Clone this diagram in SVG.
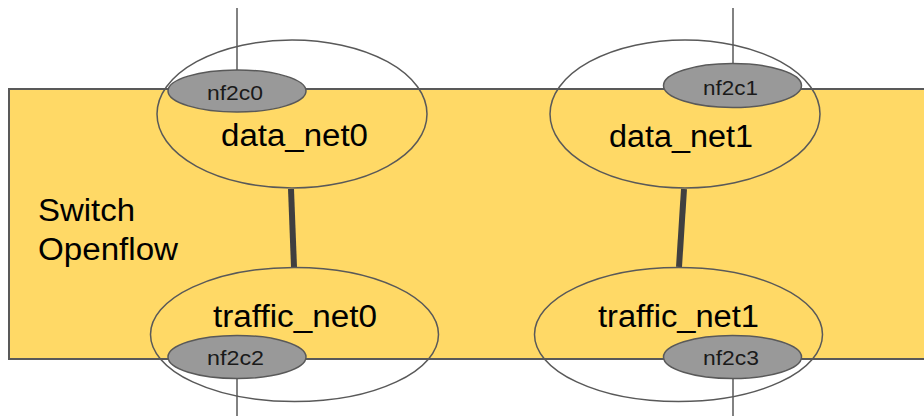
<svg xmlns="http://www.w3.org/2000/svg" width="924" height="416" viewBox="0 0 924 416">
  <style>
    .switch { fill: #ffd966; stroke: #595959; stroke-width: 2; }
    .net { fill: none; stroke: #595959; stroke-width: 1.5; }
    .port { fill: #999999; stroke: #595959; stroke-width: 1.5; }
    .wire { stroke: #595959; stroke-width: 1.5; fill: none; }
    .link { stroke: #404040; stroke-width: 6; fill: none; }
    .big { font-family: "Liberation Sans", Arial, sans-serif; font-size: 31px; fill: #000; }
    .small { font-family: "Liberation Sans", Arial, sans-serif; font-size: 21px; fill: #1a1a1a; }
  </style>

  <!-- switch body -->
  <g id="switch">
    <rect class="switch" x="9" y="89" width="930" height="270"/>
    <text class="big" x="38" y="221" textLength="97" lengthAdjust="spacingAndGlyphs">Switch</text>
    <text class="big" x="38" y="260" textLength="140" lengthAdjust="spacingAndGlyphs">Openflow</text>
  </g>

  <!-- external wires and inter-net links -->
  <g id="connectors">
    <line class="wire" x1="237" y1="8" x2="237" y2="70"/>
    <line class="wire" x1="733" y1="8" x2="733" y2="64"/>
    <line class="wire" x1="237" y1="379" x2="237" y2="416"/>
    <line class="wire" x1="733" y1="379" x2="733" y2="416"/>
    <line class="link" x1="291" y1="189" x2="294" y2="267"/>
    <line class="link" x1="684" y1="189" x2="679" y2="267"/>
  </g>

  <g id="data_net0">
    <ellipse class="net" cx="292" cy="114" rx="135" ry="74"/>
    <text class="big" x="221" y="146" textLength="147" lengthAdjust="spacingAndGlyphs">data_net0</text>
  </g>
  <g id="data_net1">
    <ellipse class="net" cx="685" cy="114" rx="135" ry="74"/>
    <text class="big" x="609" y="147" textLength="144" lengthAdjust="spacingAndGlyphs">data_net1</text>
  </g>
  <g id="traffic_net0">
    <ellipse class="net" cx="294.5" cy="334.5" rx="144" ry="67"/>
    <text class="big" x="213" y="327" textLength="164" lengthAdjust="spacingAndGlyphs">traffic_net0</text>
  </g>
  <g id="traffic_net1">
    <ellipse class="net" cx="678.5" cy="334.5" rx="144" ry="67"/>
    <text class="big" x="598" y="327" textLength="161" lengthAdjust="spacingAndGlyphs">traffic_net1</text>
  </g>

  <g id="nf2c0">
    <ellipse class="port" cx="237" cy="91" rx="69" ry="21"/>
    <text class="small" x="207" y="100" textLength="56" lengthAdjust="spacingAndGlyphs">nf2c0</text>
  </g>
  <g id="nf2c1">
    <ellipse class="port" cx="732.5" cy="85.5" rx="69" ry="22"/>
    <text class="small" x="703" y="95" textLength="55" lengthAdjust="spacingAndGlyphs">nf2c1</text>
  </g>
  <g id="nf2c2">
    <ellipse class="port" cx="237" cy="357" rx="69" ry="21.5"/>
    <text class="small" x="207" y="365" textLength="57" lengthAdjust="spacingAndGlyphs">nf2c2</text>
  </g>
  <g id="nf2c3">
    <ellipse class="port" cx="732.5" cy="357" rx="69" ry="21.5"/>
    <text class="small" x="703" y="365" textLength="56" lengthAdjust="spacingAndGlyphs">nf2c3</text>
  </g>
</svg>
